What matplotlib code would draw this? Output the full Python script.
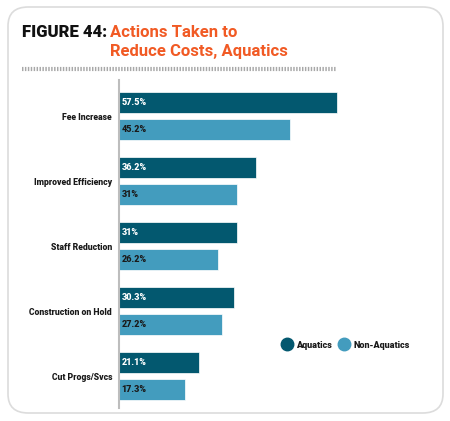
import matplotlib
matplotlib.use("Agg")
import matplotlib.pyplot as plt
from matplotlib.patches import FancyBboxPatch
from matplotlib.lines import Line2D
import numpy as np

categories = ["Fee Increase", "Improved Efficiency", "Staff Reduction",
              "Construction on Hold", "Cut Progs/Svcs"]
aquatics = [57.5, 36.2, 31.0, 30.3, 21.1]
non_aquatics = [45.2, 31.0, 26.2, 27.2, 17.3]
aq_labels = ["57.5%", "36.2%", "31%", "30.3%", "21.1%"]
non_labels = ["45.2%", "31%", "26.2%", "27.2%", "17.3%"]
series_names = ["Aquatics", "Non-Aquatics"]

C_AQ = "#03586F"
C_NON = "#439CBE"
ORANGE = "#F15A24"
TXT = "#1a1a1a"
WEIGHT = "heavy"

W, H = 450, 421
fig = plt.figure(figsize=(W / 100, H / 100), dpi=100)
fig.patch.set_facecolor("white")

def px(x, y):
    return x / W, 1 - y / H

# rounded border
box = FancyBboxPatch((8 / W, 1 - 413 / H), 435 / W, 406 / H,
                     boxstyle="round,pad=0,rounding_size=0.045",
                     transform=fig.transFigure, facecolor="none",
                     edgecolor="#DCDCDC", linewidth=1.2, zorder=-1)
fig.patches.append(box)

# title
fig.text(*px(22, 37), "FIGURE 44:", fontsize=12, fontweight="heavy",
         family="Roboto", color="#111111", va="baseline", ha="left")
fig.text(*px(110, 37), "Actions Taken to", fontsize=12, fontweight="semibold",
         family="Roboto", color=ORANGE, va="baseline", ha="left")
fig.text(*px(110, 56), "Reduce Costs, Aquatics", fontsize=12, fontweight="semibold",
         family="Roboto", color=ORANGE, va="baseline", ha="left")

# dotted separator
fig.add_artist(Line2D([22 / W, 337 / W], [1 - 69 / H, 1 - 69 / H],
                      transform=fig.transFigure, color="#A8A8A8",
                      linewidth=3, linestyle=(0, (0.35, 0.35))))

# axes
ax = fig.add_axes([119 / W, 1 - 408 / H, 311 / W, 328 / H])
ax.set_facecolor("none")
y = np.arange(len(categories))
off = 0.204
h = 0.323
ax.barh(y - off, aquatics, height=h, color=C_AQ, edgecolor="white", linewidth=0.5)
ax.barh(y + off, non_aquatics, height=h, color=C_NON, edgecolor="white", linewidth=0.5)
ax.set_xlim(0, 82)
ax.set_ylim(4.49, -0.554)

for i in range(len(categories)):
    ax.annotate(aq_labels[i], (0, y[i] - off), xytext=(2, 0), textcoords="offset points",
                va="center", ha="left", fontsize=6.5, fontweight=WEIGHT,
                family="Roboto", color="white")
    ax.annotate(non_labels[i], (0, y[i] + off), xytext=(2, 0), textcoords="offset points",
                va="center", ha="left", fontsize=6.5, fontweight=WEIGHT,
                family="Roboto", color=TXT)

ax.set_yticks(y)
ax.set_yticklabels(categories, fontsize=6.2, fontweight=WEIGHT, family="Roboto",
                   color=TXT)
ax.tick_params(axis="y", length=0, pad=5)
ax.set_xticks([])
for s in ["top", "right", "bottom"]:
    ax.spines[s].set_visible(False)
ax.spines["left"].set_color("#BDBDBD")
ax.spines["left"].set_linewidth(1.5)

handles = [Line2D([], [], marker="o", linestyle="", markersize=9,
                  markerfacecolor=c, markeredgecolor=c) for c in (C_AQ, C_NON)]
leg = fig.legend(handles, series_names, loc="center left",
                 bbox_to_anchor=px(278, 345), ncol=2, frameon=False,
                 borderpad=0, handletextpad=0.55, columnspacing=0.8,
                 handlelength=1.0,
                 prop={"family": "Roboto", "weight": WEIGHT, "size": 6.5})
for t in leg.get_texts():
    t.set_color(TXT)

fig.savefig("out.png", dpi=100, facecolor="white")
